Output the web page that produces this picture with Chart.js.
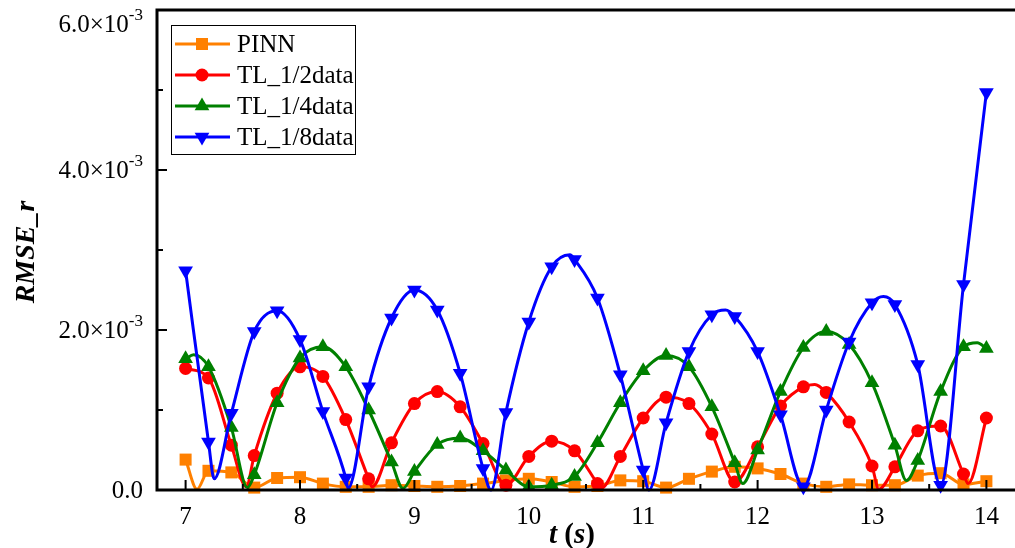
<!DOCTYPE html>
<html>
<head>
<meta charset="utf-8">
<script src="https://cdn.jsdelivr.net/npm/chart.js@4.4.1/dist/chart.umd.min.js"></script>
<style>
  html, body { margin: 0; padding: 0; background: #fff; overflow: hidden; }
  #wrap { width: 1015px; height: 548px; overflow: hidden; }
</style>
</head>
<body>
<div id="wrap"><canvas id="rmseChart" width="1015" height="548"></canvas></div>
<script>
// RMSE_r over time, values are in units of 1e-3
const times = [7.0, 7.2, 7.4, 7.6, 7.8, 8.0, 8.2, 8.4, 8.6, 8.8, 9.0, 9.2, 9.4, 9.6, 9.8, 10.0, 10.2, 10.4,
  10.6, 10.8, 11.0, 11.2, 11.4, 11.6, 11.8, 12.0, 12.2, 12.4, 12.6, 12.8, 13.0, 13.2, 13.4, 13.6, 13.8, 14.0];

const pinnVals = [0.38, 0.24, 0.22, 0.03, 0.15, 0.16, 0.08, 0.04, 0.04, 0.06, 0.05, 0.04, 0.05, 0.08, 0.12, 0.14, 0.10, 0.04,
  0.05, 0.12, 0.11, 0.03, 0.14, 0.23, 0.29, 0.27, 0.20, 0.08, 0.04, 0.07, 0.06, 0.06, 0.18, 0.21, 0.07, 0.11];
const halfVals = [1.52, 1.40, 0.56, 0.43, 1.21, 1.54, 1.42, 0.88, 0.14, 0.59, 1.08, 1.23, 1.04, 0.58, 0.06, 0.42, 0.61, 0.49,
  0.08, 0.42, 0.90, 1.16, 1.08, 0.70, 0.10, 0.54, 1.05, 1.29, 1.22, 0.85, 0.30, 0.29, 0.74, 0.80, 0.20, 0.90];
const quarterVals = [1.64, 1.54, 0.78, 0.19, 1.09, 1.65, 1.79, 1.54, 1.00, 0.35, 0.23, 0.57, 0.65, 0.49, 0.25, 0.04, 0.06, 0.17,
  0.59, 1.09, 1.49, 1.68, 1.54, 1.04, 0.34, 0.50, 1.23, 1.78, 1.98, 1.82, 1.34, 0.56, 0.37, 1.23, 1.79, 1.77];
const eighthVals = [2.74, 0.60, 0.96, 1.98, 2.24, 1.88, 0.98, 0.15, 1.29, 2.15, 2.50, 2.25, 1.46, 0.27, 0.97, 2.10, 2.79, 2.88,
  2.40, 1.44, 0.25, 0.84, 1.73, 2.19, 2.17, 1.73, 0.94, 0.04, 1.00, 1.85, 2.34, 2.32, 1.57, 0.06, 2.57, 4.97];

// turning points of the curves between markers, [t, value]
const pinnExtra = [[7.1, 0.01]];
const halfExtra = [[7.53, 0.04], [8.63, 0.04], [10.63, 0.02], [12.5, 1.32], [13.06, 0.01], [13.84, 0.08]];
const quarterExtra = [[7.07, 1.69], [7.54, 0.03], [8.9, 0.02], [11.87, 0.08], [13.3, 0.12], [13.92, 1.84]];
const eighthExtra = [[7.25, 0.14], [8.42, 0.02], [9.67, 0.0], [10.36, 2.94], [11.05, 0.0], [11.72, 2.25], [13.1, 2.42]];

const seriesNames = ['PINN', 'TL_1/2data', 'TL_1/4data', 'TL_1/8data'];
const xTicks = [7, 8, 9, 10, 11, 12, 13, 14];
const yTicks = [0, 2, 4, 6];

const styles = [
  { color: '#FF8000', shape: 'rect', r: 8.5, rot: 0 },
  { color: '#FF0000', shape: 'circle', r: 6.5, rot: 0 },
  { color: '#008000', shape: 'triangle', r: 8.5, rot: 0 },
  { color: '#0000FF', shape: 'triangle', r: 8.5, rot: 180 }
];

function buildPoints(vals, extra) {
  const pts = times.map((t, i) => ({ x: t, y: vals[i], m: true }));
  extra.forEach(e => pts.push({ x: e[0], y: e[1], m: false }));
  return pts.sort((a, b) => a.x - b.x);
}

const allVals = [pinnVals, halfVals, quarterVals, eighthVals];
const allExtra = [pinnExtra, halfExtra, quarterExtra, eighthExtra];

const datasets = seriesNames.map((name, i) => {
  const st = styles[i];
  return {
    label: name,
    data: buildPoints(allVals[i], allExtra[i]),
    borderColor: st.color,
    backgroundColor: st.color,
    borderWidth: 3,
    cubicInterpolationMode: 'monotone',
    pointStyle: st.shape,
    pointRotation: st.rot,
    pointRadius: c => (c.raw && c.raw.m ? st.r : 0),
    pointBorderWidth: 0,
    pointBackgroundColor: st.color,
    clip: false,
    order: 4 - i
  };
});

// marker drawing for the legend
function marker(ctx, shape, x, y, r, rot) {
  ctx.beginPath();
  if (shape === 'circle') {
    ctx.arc(x, y, r, 0, Math.PI * 2);
  } else if (shape === 'rect') {
    const s = r * Math.SQRT1_2;
    ctx.rect(x - s, y - s, 2 * s, 2 * s);
  } else {
    let a = rot * Math.PI / 180;
    ctx.moveTo(x + Math.sin(a) * r, y - Math.cos(a) * r);
    for (let k = 0; k < 2; k++) {
      a += 2 * Math.PI / 3;
      ctx.lineTo(x + Math.sin(a) * r, y - Math.cos(a) * r);
    }
    ctx.closePath();
  }
  ctx.fill();
}

const decoPlugin = {
  id: 'deco',
  afterDraw(chart) {
    const { ctx, chartArea: a, scales: { x, y } } = chart;
    ctx.save();
    ctx.strokeStyle = '#000';
    ctx.fillStyle = '#000';

    // frame (left, bottom, top) - right side runs off the picture
    ctx.lineWidth = 3;
    ctx.beginPath();
    ctx.moveTo(a.left - 1.5, a.top); ctx.lineTo(a.right + 2, a.top);
    ctx.moveTo(a.left, a.top); ctx.lineTo(a.left, a.bottom + 1.5);
    ctx.moveTo(a.left - 1.5, a.bottom); ctx.lineTo(a.right + 2, a.bottom);
    ctx.stroke();

    // inward ticks
    ctx.lineWidth = 2;
    ctx.beginPath();
    xTicks.forEach((v, i) => {
      const px = x.getPixelForValue(v);
      ctx.moveTo(px, a.bottom); ctx.lineTo(px, a.bottom - 10);
      if (i < xTicks.length - 1) {
        const pm = x.getPixelForValue((v + xTicks[i + 1]) / 2);
        ctx.moveTo(pm, a.bottom); ctx.lineTo(pm, a.bottom - 6);
      }
    });
    yTicks.forEach((v, i) => {
      const py = y.getPixelForValue(v);
      ctx.moveTo(a.left, py); ctx.lineTo(a.left + 10, py);
      if (i < yTicks.length - 1) {
        const pm = y.getPixelForValue((v + yTicks[i + 1]) / 2);
        ctx.moveTo(a.left, pm); ctx.lineTo(a.left + 6, pm);
      }
    });
    ctx.stroke();

    // x tick labels
    ctx.font = '25px "Liberation Serif"';
    ctx.textAlign = 'center';
    ctx.textBaseline = 'middle';
    xTicks.forEach(v => {
      ctx.fillText(String(v), x.getPixelForValue(v), a.bottom + 27);
    });

    // y tick labels with exponent
    const right = a.left - 14;
    yTicks.forEach(v => {
      const py = Math.max(y.getPixelForValue(v) + 1, 25);
      if (v === 0) {
        ctx.font = '25px "Liberation Serif"';
        ctx.textAlign = 'right';
        ctx.fillText('0.0', right, py);
        return;
      }
      ctx.font = '17px "Liberation Serif"';
      const sup = '-3';
      const supW = ctx.measureText(sup).width;
      ctx.textAlign = 'left';
      ctx.fillText(sup, right - supW, py - 9);
      ctx.font = '25px "Liberation Serif"';
      ctx.textAlign = 'right';
      ctx.fillText(v.toFixed(1) + '\u00D710', right - supW, py);
    });

    // x title: t (s)
    ctx.textAlign = 'left';
    ctx.textBaseline = 'alphabetic';
    const parts = [['t', 'italic bold'], [' (', 'bold'], ['s', 'italic bold'], [')', 'bold']];
    let total = 0;
    parts.forEach(p => { ctx.font = p[1] + ' 29px "Liberation Serif"'; total += ctx.measureText(p[0]).width; });
    let tx = 572 - total / 2;
    parts.forEach(p => {
      ctx.font = p[1] + ' 29px "Liberation Serif"';
      ctx.fillText(p[0], tx, 543);
      tx += ctx.measureText(p[0]).width;
    });

    // y title
    ctx.save();
    ctx.translate(27, 252);
    ctx.rotate(-Math.PI / 2);
    ctx.font = 'italic bold 28px "Liberation Serif"';
    ctx.textAlign = 'center';
    ctx.textBaseline = 'middle';
    ctx.fillText('RMSE_r', 0, 0);
    ctx.restore();

    // legend
    const lx = 171, ly = 25, lw = 184, lh = 129;
    ctx.fillStyle = '#fff';
    ctx.fillRect(lx, ly, lw, lh);
    ctx.lineWidth = 1;
    ctx.strokeStyle = '#000';
    ctx.strokeRect(lx + 0.5, ly + 0.5, lw, lh);
    ctx.font = '25px "Liberation Serif"';
    ctx.textBaseline = 'middle';
    ctx.textAlign = 'left';
    seriesNames.forEach((name, i) => {
      const st = styles[i];
      const ry = ly + 19 + i * 31;
      ctx.strokeStyle = st.color;
      ctx.lineWidth = 3;
      ctx.beginPath();
      ctx.moveTo(lx + 4, ry); ctx.lineTo(lx + 59, ry);
      ctx.stroke();
      ctx.fillStyle = st.color;
      marker(ctx, st.shape, lx + 31, ry, st.r, st.rot);
      ctx.fillStyle = '#000';
      ctx.fillText(name, lx + 66, ry + 1);
    });
    ctx.restore();
  }
};

new Chart(document.getElementById('rmseChart'), {
  type: 'line',
  data: { datasets: datasets },
  options: {
    responsive: false,
    animation: false,
    events: [],
    layout: { autoPadding: false, padding: { top: 10, right: 0, bottom: 0, left: 0 } },
    plugins: { legend: { display: false }, tooltip: { enabled: false } },
    scales: {
      x: {
        type: 'linear',
        min: 6.75,
        max: 14.25,
        grid: { display: false },
        border: { display: false },
        afterBuildTicks: s => { s.ticks = xTicks.map(v => ({ value: v })); },
        afterFit: s => { s.height = 58; },
        ticks: { display: false }
      },
      y: {
        type: 'linear',
        min: 0,
        max: 6,
        grid: { display: false },
        border: { display: false },
        afterBuildTicks: s => { s.ticks = yTicks.map(v => ({ value: v })); },
        afterFit: s => { s.width = 157; },
        ticks: { display: false }
      }
    }
  },
  plugins: [decoPlugin]
});
</script>
</body>
</html>
